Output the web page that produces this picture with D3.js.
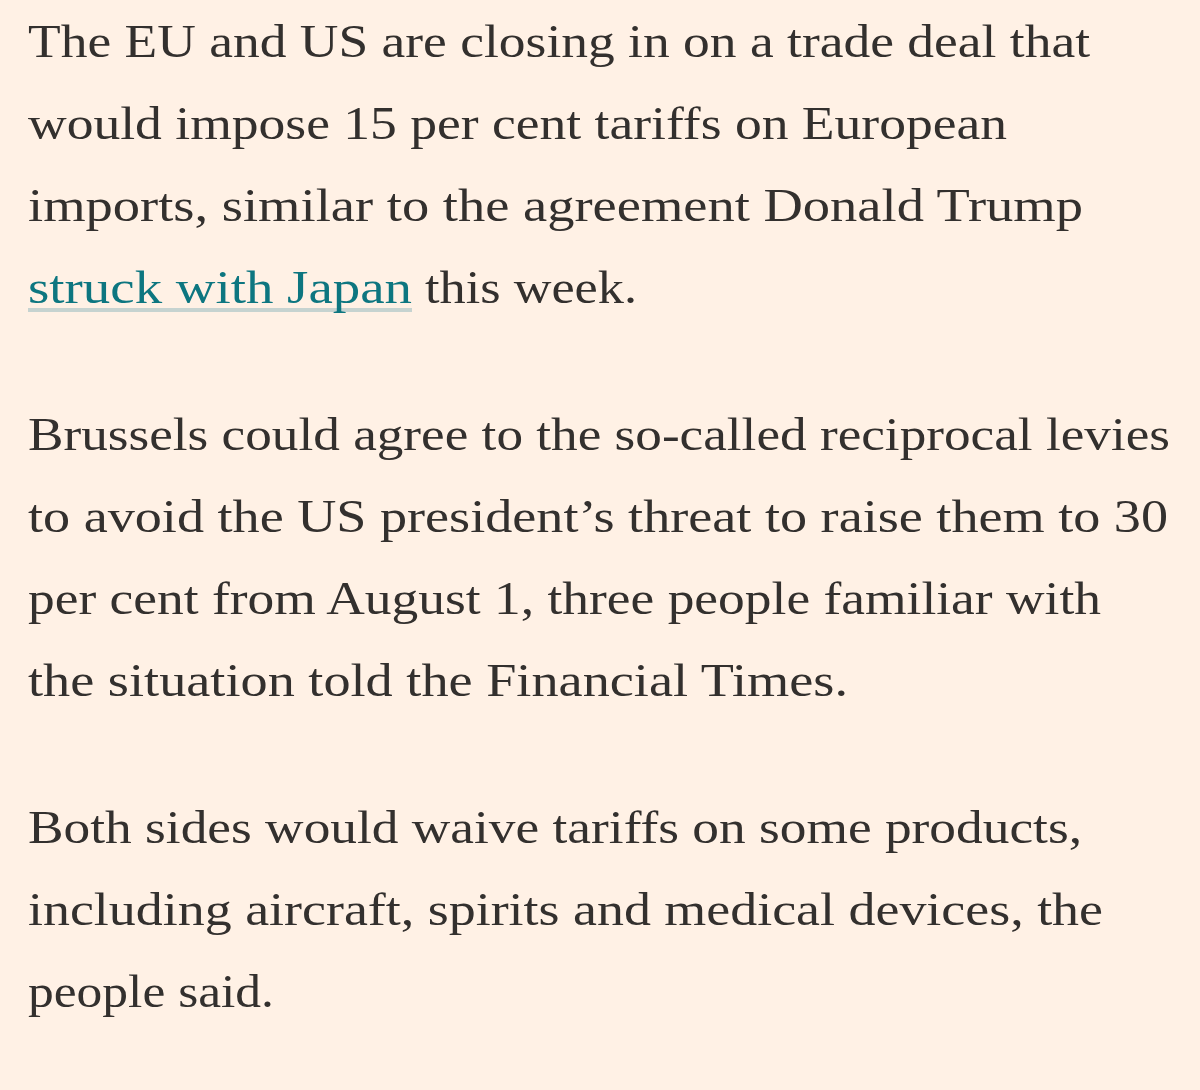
<!DOCTYPE html>
<html><head><meta charset="utf-8">
<script src="https://cdn.jsdelivr.net/npm/d3@7"></script>
<style>body{margin:0;background:#fff1e5;}</style>
</head><body>
<script>
var para1 = ["The EU and US are closing in on a trade deal that",
             "would impose 15 per cent tariffs on European",
             "imports, similar to the agreement Donald Trump"];
var para1End = ["struck with Japan", " this week."];
var para2 = ["Brussels could agree to the so-called reciprocal levies",
             "to avoid the US president\u2019s threat to raise them to 30",
             "per cent from August 1, three people familiar with",
             "the situation told the Financial Times."];
var para3 = ["Both sides would waive tariffs on some products,",
             "including aircraft, spirits and medical devices, the",
             "people said."];
// measured right edges of each line in the reference
var lineEnds = [[1090, 1007, 1083], [1170, 1168, 1101, 848], [1082, 1103, 274]];

var width = 1200, height = 1090, left = 28, lineH = 82, paraGap = 147;
var svg = d3.select("body").append("svg").attr("width", width).attr("height", height);
svg.append("rect").attr("width", width).attr("height", height).attr("fill", "#fff1e5");

function drawLines(lines, ends, y0) {
  svg.append("g").selectAll("text").data(lines).enter().append("text")
    .attr("x", left)
    .attr("y", function(d, i) { return y0 + i * lineH; })
    .attr("textLength", function(d, i) { return ends[i] - left; })
    .attr("lengthAdjust", "spacingAndGlyphs")
    .style("font-family", "'Liberation Serif', 'DejaVu Serif', serif")
    .style("font-size", "47px")
    .attr("fill", "#33302e")
    .text(function(d) { return d; });
}

var y1 = 57;
drawLines(para1, lineEnds[0], y1);
var y4 = y1 + 3 * lineH;
svg.append("line").attr("x1", left).attr("x2", 412).attr("y1", y4 + 7).attr("y2", y4 + 7)
  .attr("stroke", "#c6d3d0").attr("stroke-width", 4);
svg.append("text").attr("x", left).attr("y", y4)
  .attr("textLength", 412 - left).attr("lengthAdjust", "spacingAndGlyphs")
  .style("font-family", "'Liberation Serif', 'DejaVu Serif', serif").style("font-size", "47px")
  .attr("fill", "#0d7680").text(para1End[0]);
svg.append("text").attr("x", 412).attr("y", y4)
  .attr("textLength", 637 - 412).attr("lengthAdjust", "spacingAndGlyphs")
  .attr("xml:space", "preserve").style("white-space", "pre")
  .style("font-family", "'Liberation Serif', 'DejaVu Serif', serif").style("font-size", "47px")
  .attr("fill", "#33302e").text(para1End[1]);

var y5 = y4 + paraGap;
drawLines(para2, lineEnds[1], y5);
drawLines(para3, lineEnds[2], y5 + 3 * lineH + paraGap);
</script>
</body></html>
